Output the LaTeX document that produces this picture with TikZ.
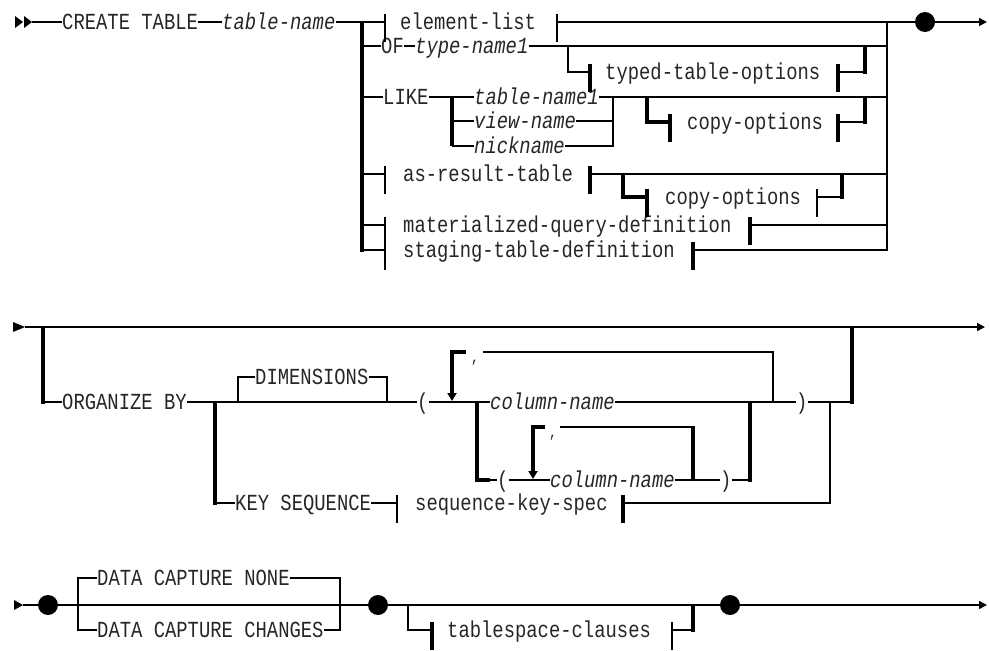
\documentclass[tikz,border=0pt]{standalone}
\usepackage{fontspec}
\setmonofont[FakeStretch=0.82]{Liberation Mono}
\usetikzlibrary{arrows.meta}
\definecolor{txt}{HTML}{262626}
\newcommand\fragL[3][]{\draw[rr,#1] (#2,{#3-8}) -- (#2,{#3+20});}
\newcommand\fragR[3][]{\draw[rr,#1] (#2,{#3-8}) -- (#2,{#3+20});}
\begin{document}
\begin{tikzpicture}[x=1pt,y=-1pt,
  rr/.style={line width=1.4pt, black},
  tk/.style={line width=3.2pt},
  kw/.style={font=\ttfamily\fontsize{23}{24}\selectfont, inner sep=0pt, text height=15pt, text depth=0pt, anchor=west, text=txt},
  var/.style={kw, font=\ttfamily\itshape\fontsize{23}{24}\selectfont},
  commalbl/.style={font=\ttfamily\fontsize{16}{16}\selectfont, inner sep=0pt, anchor=base, text=txt},
  dot/.style={circle, fill=black, inner sep=0pt, minimum size=20pt},
  endarr/.style={rr, -{Triangle[length=8pt,width=8pt]}},
  downarr/.style={rr, tk, -{Triangle[length=8pt,width=9pt]}},
]
\useasboundingbox (0,0) rectangle (989,651);

% ================= Section 1 =================
\fill (15,16) -- (23,22) -- (15,28) -- cycle;
\fill (24,16) -- (32,22) -- (24,28) -- cycle;
\node[kw] (create) at (62,22) {CREATE TABLE};
\node[var] (tname) at (222,22) {table-name};
\node[kw] (elist) at (400,22) {element-list};
\node[kw] (of) at (381,46) {OF};
\node[var] (typen) at (415,46) {type-name1};
\node[kw] (tto) at (605,72) {typed-table-options};
\node[kw] (like) at (383,97) {LIKE};
\node[var] (tn1) at (474,97) {table-name1};
\node[var] (vn) at (474,121) {view-name};
\node[var] (nn) at (474,146) {nickname};
\node[kw] (co1) at (687,122) {copy-options};
\node[kw] (asr) at (403,174) {as-result-table};
\node[kw] (co2) at (665,197) {copy-options};
\node[kw] (mqd) at (403,225) {materialized-query-definition};
\node[kw] (std) at (403,250) {staging-table-definition};
\node[dot] (d1) at (925,22) {};
\coordinate (e1) at (987,22);

\draw[rr] (32,22) -- (create.west);
\draw[rr] (create.east) -- (tname.west);
\draw[rr] (tname.east) -- (385,22);
\fragL{385}{22}
\fragR{557}{22}
\draw[rr] (557,22) -- (d1);
\draw[endarr] (d1) -- (e1);
% left rail
\draw[rr,tk] (362,22) -- (362,251.5);
\draw[rr] (362,46) -- (of.west);
\draw[rr] (of.east) -- (typen.west);
\draw[rr] (typen.east) -- (887,46);
\draw[rr] (568,46) -- (568,72) -- (590,72);
\fragL[tk]{590}{72}
\fragR[tk]{838}{72}
\draw[rr] (838,72) -- (865,72);
\draw[rr,tk] (865,73.5) -- (865,46);
% LIKE
\draw[rr] (362,97) -- (like.west);
\draw[rr] (like.east) -- (tn1.west);
\draw[rr,tk] (452,97) -- (452,146);
\draw[rr] (452,121) -- (vn.west);
\draw[rr] (452,146) -- (nn.west);
\draw[rr] (tn1.east) -- (887,97);
\draw[rr] (vn.east) -- (613,121);
\draw[rr] (nn.east) -- (613,146) -- (613,97);
\draw[rr,tk] (647,97) -- (647,122) -- (670,122);
\fragL[tk]{670}{122}
\fragR[tk]{838}{122}
\draw[rr] (838,122) -- (865,122);
\draw[rr,tk] (865,123.5) -- (865,97);
% as-result-table
\draw[rr] (362,174) -- (385,174);
\fragL{385}{174}
\fragR[tk]{590}{174}
\draw[rr] (590,174) -- (887,174);
\draw[rr,tk] (623,174) -- (623,197) -- (647,197);
\fragL[tk]{647}{197}
\fragR{817}{197}
\draw[rr] (817,197) -- (842,197);
\draw[rr,tk] (842,198.5) -- (842,174);
% materialized
\draw[rr] (362,225) -- (385,225);
\fragL{385}{225}
\fragR[tk]{750}{225}
\draw[rr] (750,225) -- (887,225);
% staging
\draw[rr] (362,250) -- (385,250);
\fragL{385}{250}
\fragR[tk]{693}{250}
\draw[rr] (693,250) -- (887,250);
% right rail
\draw[rr] (887,22) -- (887,250.7);

% ================= Section 2 =================
\fill (13,322) -- (25,327) -- (13,332) -- cycle;
\coordinate (e2) at (985,327);
\draw[endarr] (25,327) -- (e2);
\node[kw] (org) at (62,402) {ORGANIZE BY};
\node[kw] (dim) at (255,377) {DIMENSIONS};
\node[kw] (p1) at (417,402) {(};
\node[var] (cn1) at (490,402) {column-name};
\node[kw] (p2) at (796,402) {)};
\node[kw] (p3) at (497,480) {(};
\node[var] (cn2) at (550,480) {column-name};
\node[kw] (p4) at (720,480) {)};
\node[kw] (key) at (235,503) {KEY SEQUENCE};
\node[kw] (seq) at (415,503) {sequence-key-spec};
\node[commalbl] (c1) at (475,362) {,};
\node[commalbl] (c2) at (553,437) {,};

\draw[rr,tk] (43,327) -- (43,403.5);
\draw[rr] (43,402) -- (org.west);
\draw[rr] (org.east) -- (p1.west);
\draw[rr,tk] (215,402) -- (215,504.5);
\draw[rr] (215,503) -- (key.west);
\draw[rr] (238,402) -- (238,377) -- (dim.west);
\draw[rr] (dim.east) -- (387,377) -- (387,402);
\draw[rr] (p1.east) -- (cn1.west);
\draw[rr] (cn1.east) -- (p2.west);
\draw[rr] (p2.east) -- (852,402);
\draw[rr,tk] (852,403.5) -- (852,327);
% outer repeat
\draw[rr,tk] (466,352) -- (452,352) -- (452,380);
\draw[downarr] (452,378) -- (452,401);
\draw[rr] (483,352) -- (773,352) -- (773,402);
% inner choice
\draw[rr,tk] (477,402) -- (477,480) -- (490,480);
\draw[rr] (488,480) -- (p3.west);
\draw[rr] (p3.east) -- (cn2.west);
\draw[rr] (cn2.east) -- (p4.west);
\draw[rr] (p4.east) -- (750,480);
\draw[rr,tk] (750,481.5) -- (750,402);
% inner repeat
\draw[rr,tk] (545,427) -- (533,427) -- (533,455);
\draw[downarr] (533,453) -- (533,479);
\draw[rr] (560,427) -- (693,427);
\draw[rr,tk] (693,426) -- (693,480);
% key sequence
\draw[rr] (key.east) -- (397,503);
\fragL{397}{503}
\fragR[tk]{623}{503}
\draw[rr] (623,503) -- (830,503) -- (830,402);

% ================= Section 3 =================
\fill (14,600) -- (23,605) -- (14,610) -- cycle;
\node[dot] (d2) at (48,605) {};
\node[dot] (d3) at (378,605) {};
\node[dot] (d4) at (730,605) {};
\coordinate (e3) at (987,605);
\node[kw] (dcn) at (97,578) {DATA CAPTURE NONE};
\node[kw] (dcc) at (97,630) {DATA CAPTURE CHANGES};
\node[kw] (tsc) at (447,630) {tablespace-clauses};
\draw[rr] (23,605) -- (d2);
\draw[rr] (d2) -- (d3);
\draw[rr] (d3) -- (d4);
\draw[endarr] (d4) -- (e3);
\draw[rr] (dcn.west) -- (78,578) -- (78,630) -- (dcc.west);
\draw[rr] (dcn.east) -- (340,578) -- (340,630) -- (dcc.east);
\draw[rr] (408,605) -- (408,630) -- (432,630);
\fragL[tk]{432}{630}
\fragR{672}{630}
\draw[rr] (672,630) -- (693,630);
\draw[rr,tk] (693,631.5) -- (693,605);
\end{tikzpicture}
\end{document}
